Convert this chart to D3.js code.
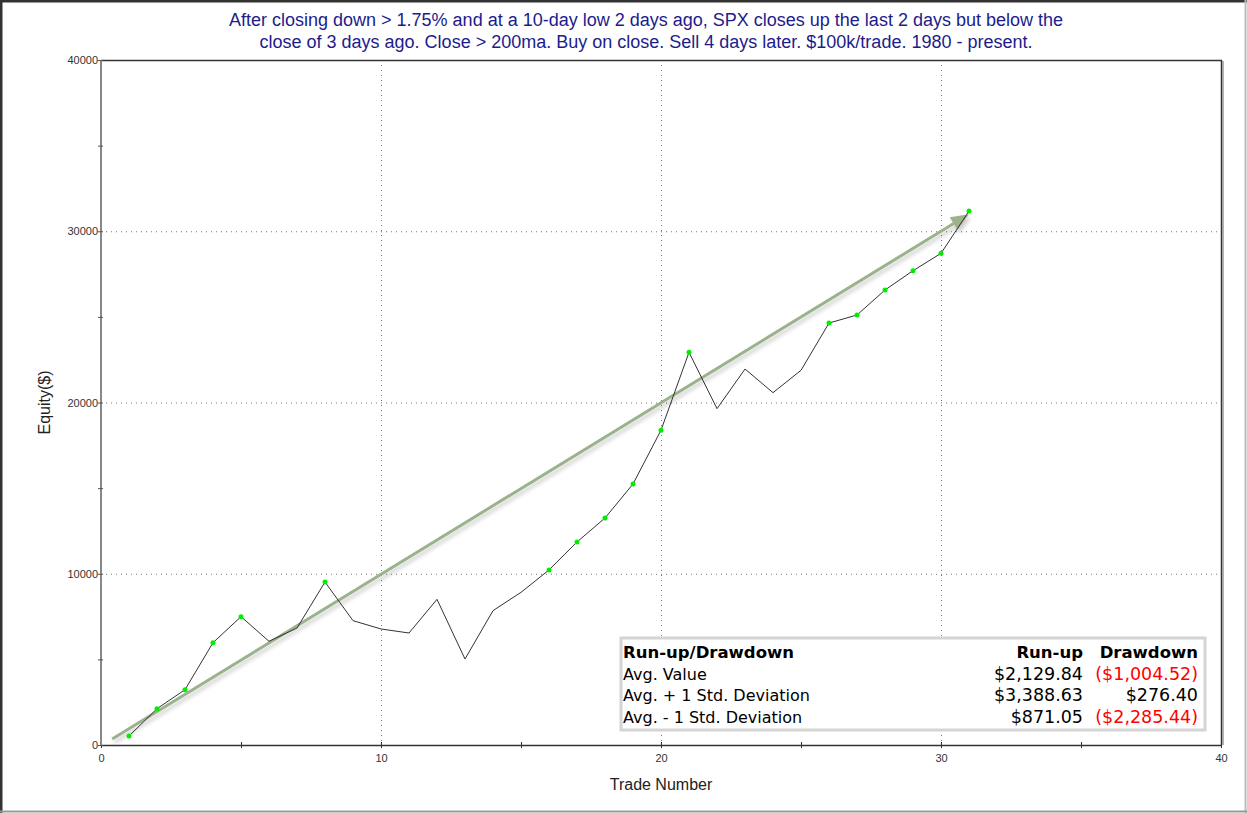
<!DOCTYPE html>
<html><head><meta charset="utf-8">
<script src="https://cdn.jsdelivr.net/npm/d3@7"></script>
<style>
html,body{margin:0;padding:0;background:#fff;}
svg{display:block;}
</style></head>
<body>
<svg id="chart" width="1247" height="813"></svg>
<script>
// ---- data ----
const tradeNumbers = [1,2,3,4,5,6,7,8,9,10,11,12,13,14,15,16,17,18,19,20,21,22,23,24,25,26,27,28,29,30,31];
const equity = [525,2120,3230,5975,7495,6055,6830,9520,7260,6775,6540,8505,5020,7845,8915,10220,11855,13255,15240,18380,22930,19640,21955,20575,21880,24640,25110,26570,27695,28710,31180];
const xTicks = [0,10,20,30,40];
const yTicks = [0,10000,20000,30000,40000];
const trendStart = [0.4, 350];
const trendEnd = [31.0, 31000];
const titleLines = [
  "After closing down > 1.75% and at a 10-day low 2 days ago, SPX closes up the last 2 days but below the",
  "close of 3 days ago. Close > 200ma. Buy on close. Sell 4 days later. $100k/trade. 1980 - present."
];
const tableHeader = ["Run-up/Drawdown", "Run-up", "Drawdown"];
const tableRows = ["Avg. Value", "Avg. + 1 Std. Deviation", "Avg. - 1 Std. Deviation"];
const runUp = ["$2,129.84", "$3,388.63", "$871.05"];
const drawdown = ["($1,004.52)", "$276.40", "($2,285.44)"];

// ---- layout ----
const svg = d3.select("#chart");
const W = 1247, H = 813;
const L = 101, R = 1221, T = 60, B = 745;
const x = d3.scaleLinear().domain([0,40]).range([L,R]);
const y = d3.scaleLinear().domain([0,40000]).range([B,T]);

// outer frame
svg.append("rect").attr("x",0).attr("y",0).attr("width",W).attr("height",H).attr("fill","#fff");
svg.append("line").attr("x1",0).attr("x2",W).attr("y1",1).attr("y2",1).attr("stroke","#333").attr("stroke-width",3);
svg.append("line").attr("x1",1).attr("x2",1).attr("y1",0).attr("y2",H).attr("stroke","#333").attr("stroke-width",3);
svg.append("line").attr("x1",W-1.5).attr("x2",W-1.5).attr("y1",0).attr("y2",H).attr("stroke","#bbb").attr("stroke-width",2);
svg.append("line").attr("x1",0).attr("x2",W).attr("y1",H-1.5).attr("y2",H-1.5).attr("stroke","#999").attr("stroke-width",2);

// title
svg.append("g").selectAll("text").data(titleLines).join("text")
  .attr("x",646).attr("y",(d,i)=>26+i*22)
  .attr("text-anchor","middle")
  .attr("font-family","Arial, 'Liberation Sans', sans-serif").attr("font-size",18)
  .attr("fill","#1c1c8c").text(d=>d);

// grid
const grid = svg.append("g");
grid.selectAll(".gx").data(xTicks.filter(d=>d>0&&d<40)).join("line")
  .attr("x1",d=>x(d)+0.5).attr("x2",d=>x(d)+0.5).attr("y1",T).attr("y2",B)
  .attr("stroke","#777").attr("stroke-dasharray","1,4");
grid.selectAll(".gy").data(yTicks.filter(d=>d>0&&d<40000)).join("line")
  .attr("y1",d=>y(d)+0.5).attr("y2",d=>y(d)+0.5).attr("x1",L).attr("x2",R)
  .attr("stroke","#777").attr("stroke-dasharray","1,4");

// plot frame
svg.append("line").attr("x1",L).attr("x2",R+1).attr("y1",T+0.5).attr("y2",T+0.5).attr("stroke","#333").attr("stroke-width",1.5);
svg.append("line").attr("x1",R+0.5).attr("x2",R+0.5).attr("y1",T).attr("y2",B).attr("stroke","#333").attr("stroke-width",1.5);
svg.append("line").attr("x1",R+2).attr("x2",R+2).attr("y1",T+1).attr("y2",B).attr("stroke","#999").attr("stroke-width",1.5);

// axes
const fmt = d3.format("d");
const xAxis = d3.axisBottom(x).tickValues(d3.range(0,41,5)).tickSize(4).tickFormat(d=> d%10===0 ? fmt(d) : "");
const gx = svg.append("g").attr("transform",`translate(0,${B})`).call(xAxis);
gx.select(".domain").attr("stroke","#333").attr("stroke-width",1.5).attr("d",`M${L},0.5H${R+1}`);
gx.selectAll(".tick line").attr("stroke","#333").attr("y1",-3).attr("y2",3);
gx.selectAll(".tick text").attr("font-family","Arial, 'Liberation Sans', sans-serif").attr("font-size",11).attr("fill","#333").attr("dy","0.9em");

const yAxis = d3.axisLeft(y).tickValues(d3.range(0,40001,5000)).tickSize(4).tickFormat(d=> d%10000===0 ? fmt(d) : "");
const gy = svg.append("g").attr("transform",`translate(${L},0)`).call(yAxis);
gy.select(".domain").attr("stroke","#888").attr("stroke-width",2).attr("d",`M0,${T}V${B}`);
gy.selectAll(".tick line").attr("stroke","#555").attr("x1",-3).attr("x2",2);
gy.selectAll(".tick text").attr("font-family","Arial, 'Liberation Sans', sans-serif").attr("font-size",11).attr("fill","#333").attr("x",-3);

// axis titles
svg.append("text").attr("x",(L+R)/2).attr("y",790).attr("text-anchor","middle")
  .attr("font-family","Arial, 'Liberation Sans', sans-serif").attr("font-size",16).attr("fill","#222").text("Trade Number");
svg.append("text").attr("transform",`translate(50,${(T+B)/2}) rotate(-90)`).attr("text-anchor","middle")
  .attr("font-family","Arial, 'Liberation Sans', sans-serif").attr("font-size",16).attr("fill","#222").text("Equity($)");

// trend arrow with shadow
const defs = svg.append("defs");
const flt = defs.append("filter").attr("id","shadow").attr("x","-5%").attr("y","-5%").attr("width","110%").attr("height","110%");
flt.append("feGaussianBlur").attr("in","SourceAlpha").attr("stdDeviation",2).attr("result","b");
flt.append("feOffset").attr("in","b").attr("dx",2).attr("dy",2.5).attr("result","o");
flt.append("feComponentTransfer").attr("in","o").attr("result","o2").append("feFuncA").attr("type","linear").attr("slope",0.22);
const fm = flt.append("feMerge"); fm.append("feMergeNode").attr("in","o2"); fm.append("feMergeNode").attr("in","SourceGraphic");

const x0 = x(trendStart[0]), y0 = y(trendStart[1]), x1 = x(trendEnd[0]), y1 = y(trendEnd[1]);
const ang = Math.atan2(y1-y0, x1-x0);
const headLen = 18, headW = 7.5;
const bx = x1 - headLen*Math.cos(ang), by = y1 - headLen*Math.sin(ang);
const arrow = svg.append("g").attr("filter","url(#shadow)");
arrow.append("line").attr("x1",x0).attr("y1",y0).attr("x2",bx).attr("y2",by)
  .attr("stroke","#9cb28c").attr("stroke-width",3);
arrow.append("path").attr("d",`M${x1},${y1}L${bx - headW*Math.sin(ang)},${by + headW*Math.cos(ang)}L${bx + headW*Math.sin(ang)},${by - headW*Math.cos(ang)}Z`)
  .attr("fill","#9cb28c");

// equity line
const pts = tradeNumbers.map((t,i)=>({t, v:equity[i]}));
svg.append("path").datum(pts)
  .attr("d", d3.line().x(d=>x(d.t)).y(d=>y(d.v)))
  .attr("fill","none").attr("stroke","#333").attr("stroke-width",1);

// new-high markers
let runMax = -Infinity;
const highs = pts.filter(d=>{ if(d.v>runMax){runMax=d.v; return true;} return false; });
svg.append("g").selectAll("circle").data(highs).join("circle")
  .attr("cx",d=>x(d.t)).attr("cy",d=>y(d.v)).attr("r",2.5).attr("fill","#00ee00");

// table
const tb = svg.append("g");
tb.append("rect").attr("x",621).attr("y",638).attr("width",584).attr("height",92)
  .attr("fill","#fff").attr("stroke","#d4d4d4").attr("stroke-width",3);
const tf = "Verdana, 'DejaVu Sans', sans-serif";
const col0 = 623, col1 = 1083, col2 = 1198;
const rowY = [658, 680, 701, 723];
tb.append("text").attr("x",col0).attr("y",rowY[0]).attr("font-family",tf).attr("font-size",16.5).attr("font-weight","bold").attr("fill","#000").text(tableHeader[0]);
tb.append("text").attr("x",col1).attr("y",rowY[0]).attr("text-anchor","end").attr("font-family",tf).attr("font-size",16.5).attr("font-weight","bold").attr("fill","#000").text(tableHeader[1]);
tb.append("text").attr("x",col2).attr("y",rowY[0]).attr("text-anchor","end").attr("font-family",tf).attr("font-size",16.5).attr("font-weight","bold").attr("fill","#000").text(tableHeader[2]);
tableRows.forEach((r,i)=>{
  tb.append("text").attr("x",col0).attr("y",rowY[i+1]).attr("font-family",tf).attr("font-size",16).attr("fill","#000").text(r);
  tb.append("text").attr("x",col1).attr("y",rowY[i+1]).attr("text-anchor","end").attr("font-family",tf).attr("font-size",17.5).attr("fill","#000").text(runUp[i]);
  tb.append("text").attr("x",col2).attr("y",rowY[i+1]).attr("text-anchor","end").attr("font-family",tf).attr("font-size",17.5)
    .attr("fill", drawdown[i].startsWith("(") ? "#ff0000" : "#000").text(drawdown[i]);
});
</script>
</body></html>
